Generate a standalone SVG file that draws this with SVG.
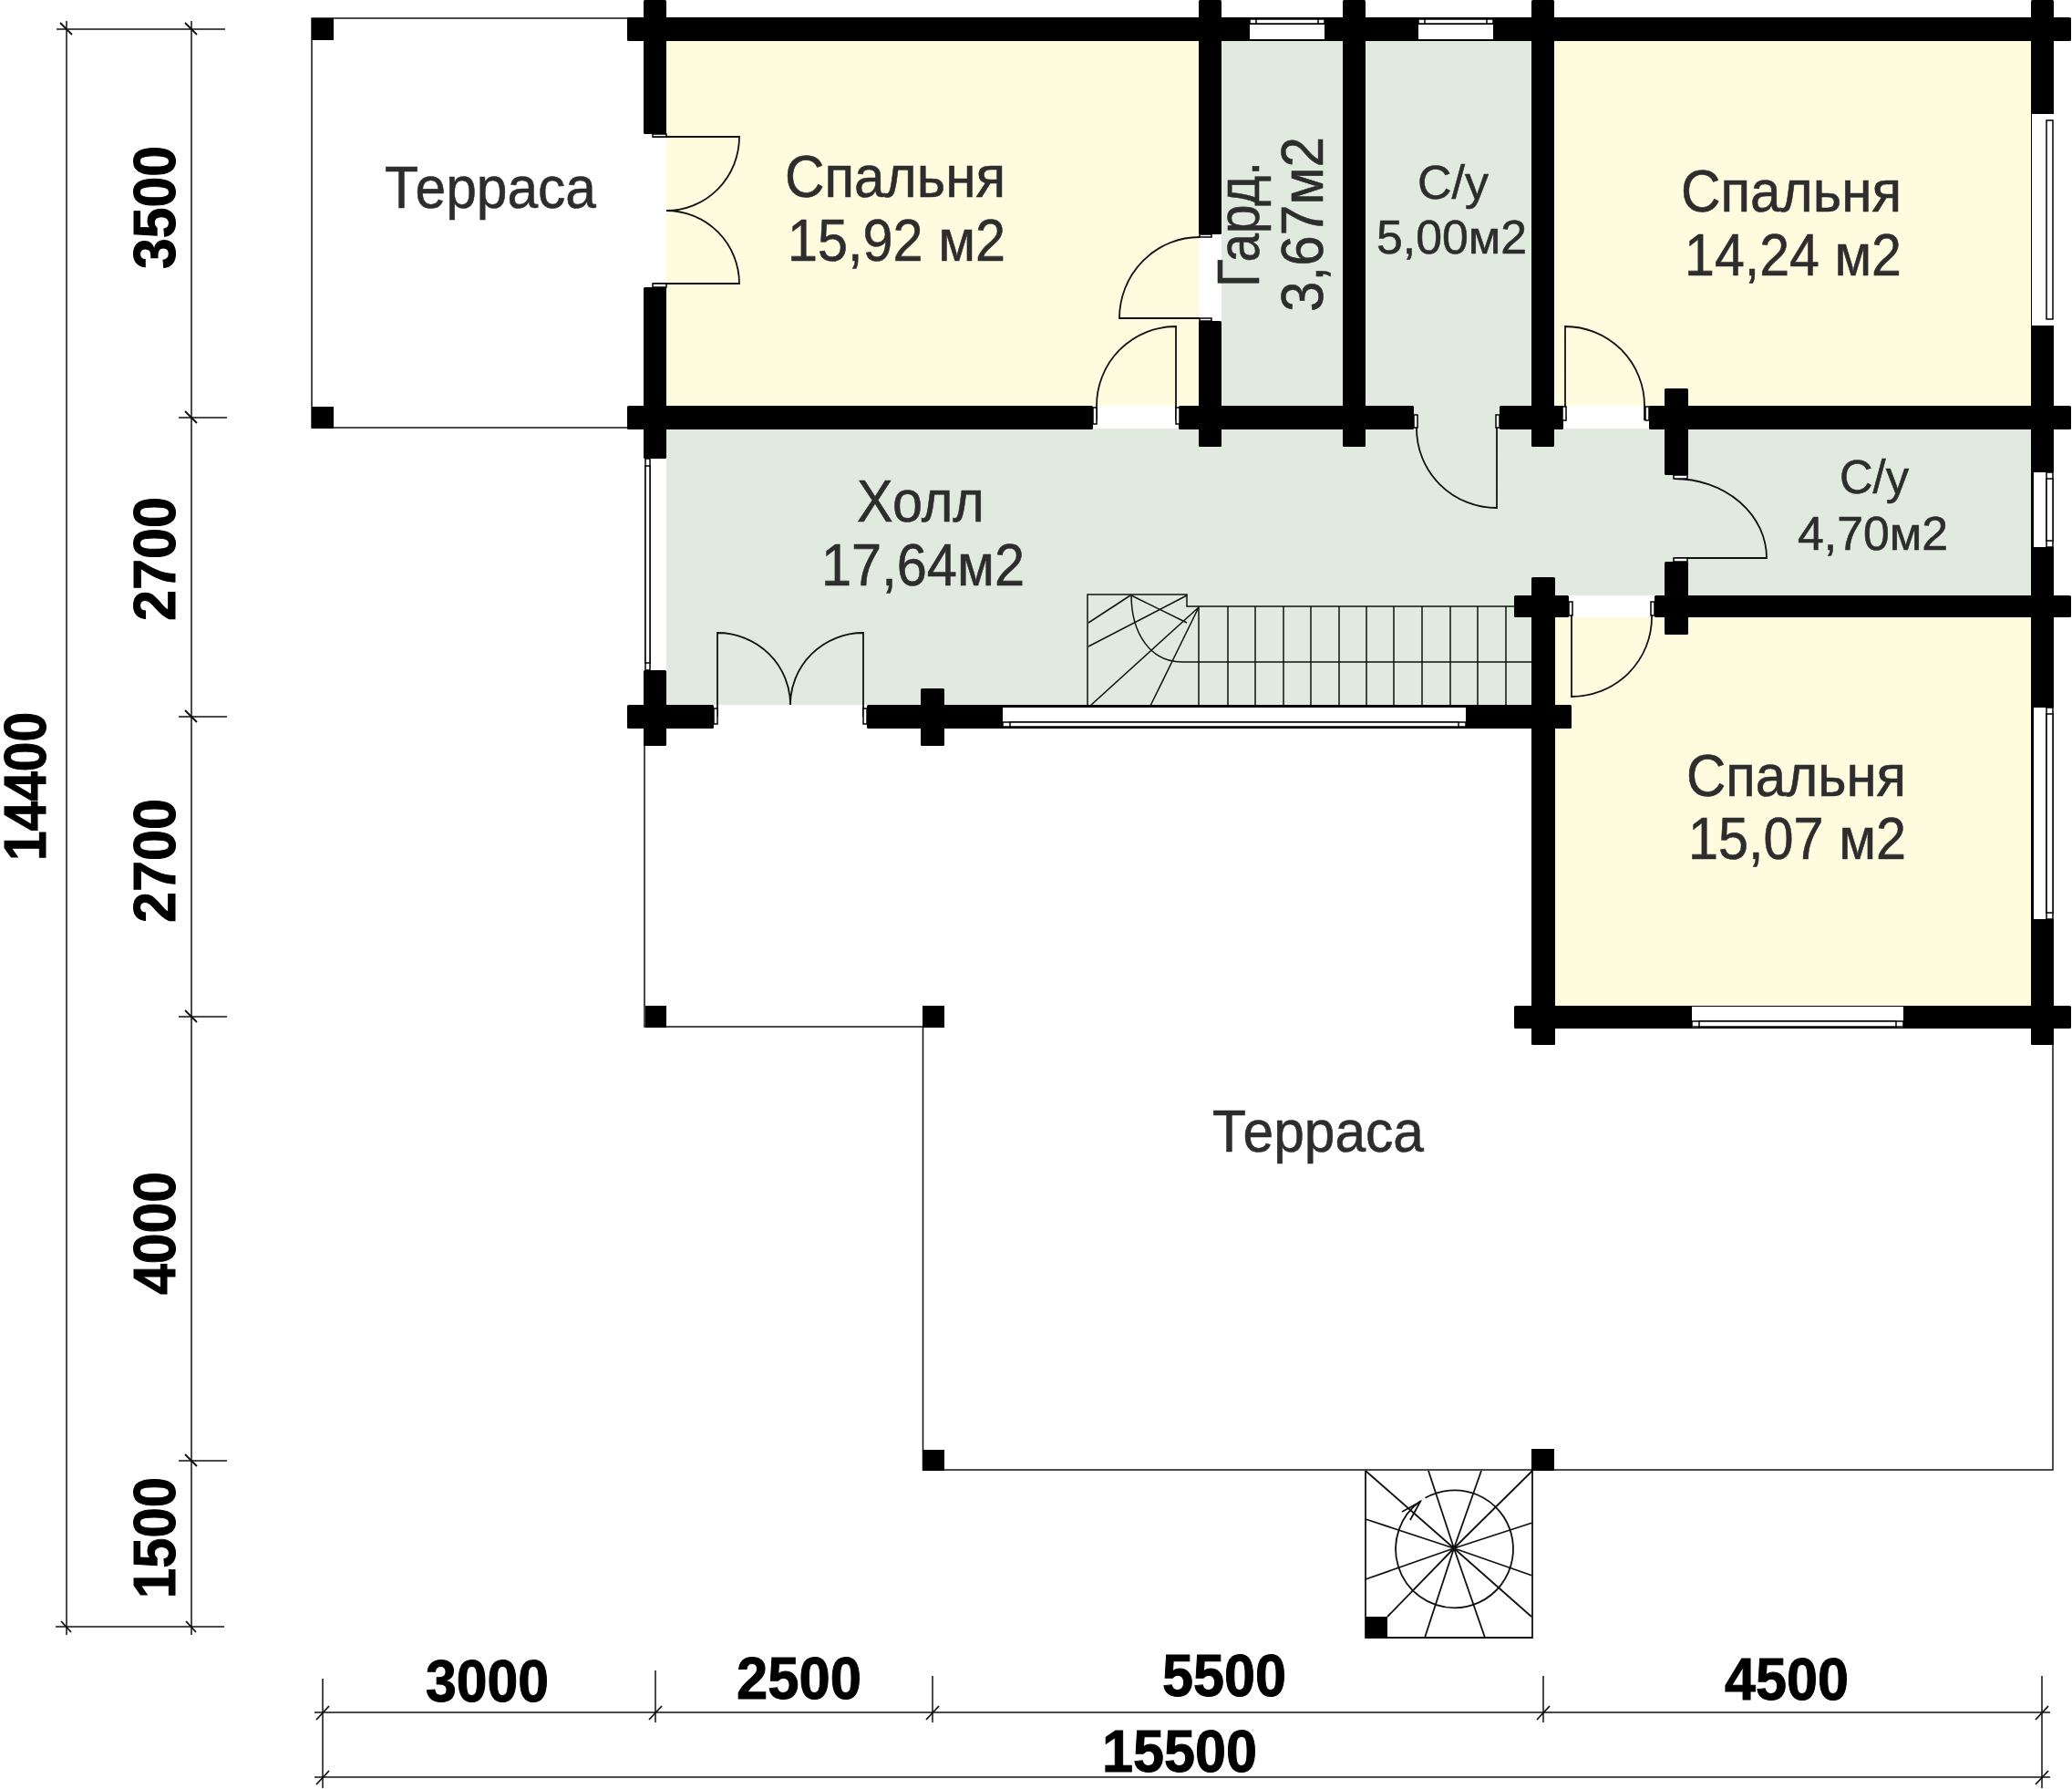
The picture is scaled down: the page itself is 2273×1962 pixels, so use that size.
<svg xmlns="http://www.w3.org/2000/svg" width="2273" height="1962" viewBox="0 0 2273 1962">
<style>
.y{fill:#fffbdf}.g{fill:#e0eadf}
.b{fill:#000}
.o{fill:#fff}
.f{fill:#fff;stroke:#000;stroke-width:1.5}
.l{fill:none;stroke:#111;stroke-width:1.5}
.d{fill:none;stroke:#111;stroke-width:1.8}
.t{font-family:"Liberation Sans",Arial,sans-serif;font-size:64px;fill:#2d2d2d;stroke:#2d2d2d;stroke-width:.6}
.s{font-size:52px}
.n{font-family:"Liberation Sans",Arial,sans-serif;font-weight:700;font-size:65px;fill:#000;stroke:#000;stroke-width:1}
</style>
<rect width="2273" height="1962" fill="#fff"/>
<g id="floors">
<rect class="y" x="731" y="45" width="584" height="400"/>
<rect class="g" x="1340" y="45" width="133" height="400"/>
<rect class="g" x="1498" y="45" width="182" height="426"/>
<rect class="y" x="1705" y="45" width="523" height="400"/>
<path class="g" d="M731,470H2228V653H1680V773H731Z"/>
<rect class="y" x="1706" y="677" width="522" height="426"/>
</g>
<g id="terrace-outlines">
<path class="l" d="M700,20H342V469H700"/>
<path class="l" d="M707,799V1126H1012.500V1612H2252V1128"/>
</g>
<g id="walls">
<g class="b">
<rect x="688" y="19" width="1584" height="26" rx="1.5"/>
<rect x="688" y="445" width="511" height="26" rx="1.5"/>
<rect x="1293" y="445" width="258" height="26" rx="1.5"/>
<rect x="1645" y="445" width="70" height="26" rx="1.5"/>
<rect x="1809" y="445" width="463" height="26" rx="1.5"/>
<rect x="1661" y="653" width="60" height="24" rx="1.5"/>
<rect x="1815" y="653" width="457" height="24" rx="1.5"/>
<rect x="688" y="773" width="95" height="26" rx="1.5"/>
<rect x="951" y="773" width="773" height="26" rx="1.5"/>
<rect x="1661" y="1103" width="611" height="25" rx="1.5"/>
<rect x="706" y="0" width="25" height="147" rx="1.5"/>
<rect x="706" y="315" width="25" height="188" rx="1.5"/>
<rect x="706" y="735" width="25" height="83" rx="1.5"/>
<rect x="1315" y="0" width="25" height="257" rx="1.5"/>
<rect x="1315" y="352" width="25" height="138" rx="1.5"/>
<rect x="1473" y="0" width="25" height="490" rx="1.5"/>
<rect x="1680" y="0" width="25" height="490" rx="1.5"/>
<rect x="1680" y="633" width="26" height="513" rx="1.5"/>
<rect x="1010" y="755" width="26" height="63" rx="1.5"/>
<rect x="1826" y="426" width="26" height="95" rx="1.5"/>
<rect x="1826" y="616" width="26" height="80" rx="1.5"/>
<rect x="2228" y="0" width="25" height="1146" rx="1.5"/>
</g>
<rect class="o" x="707" y="147" width="24" height="168"/>
<rect class="o" x="1315" y="257" width="25" height="95"/>
</g>
<g id="posts" class="b">
<rect x="342" y="20" width="24" height="24"/>
<rect x="342" y="446" width="24" height="24"/>
<rect x="708" y="1103" width="23" height="24"/>
<rect x="1012" y="1103" width="24" height="24"/>
<rect x="1012" y="1590" width="24" height="23"/>
<rect x="1680" y="1589" width="25" height="24"/>
</g>
<g id="windows">
<rect class="o" x="1371" y="27" width="82" height="16"/><rect class="f" x="1371" y="21" width="82" height="5"/><rect class="f" x="1378" y="21" width="68" height="5"/>
<rect class="o" x="1556" y="27" width="82" height="16"/><rect class="f" x="1556" y="21" width="82" height="5"/><rect class="f" x="1563" y="21" width="68" height="5"/>
<rect class="o" x="2229" y="125" width="24" height="232"/><rect class="f" x="2245" y="132" width="7" height="218"/>
<rect class="o" x="2231" y="518" width="22" height="82"/><rect class="f" x="2245" y="518" width="7" height="82"/><rect class="f" x="2245" y="525" width="7" height="68"/>
<rect class="o" x="2231" y="776" width="22" height="232"/><rect class="f" x="2245" y="776" width="7" height="232"/><rect class="f" x="2245" y="783" width="7" height="218"/>
<rect class="o" x="708" y="503" width="23" height="232"/><rect class="f" x="708" y="503" width="5" height="232"/><rect class="f" x="708" y="511" width="5" height="216"/>
<rect class="o" x="1100" y="776" width="508" height="21"/><rect class="f" x="1100" y="792" width="508" height="5"/><rect class="f" x="1108" y="792" width="492" height="5"/>
<rect class="o" x="1856" y="1104" width="232" height="23"/><rect class="f" x="1856" y="1120" width="232" height="6"/><rect class="f" x="1864" y="1120" width="216" height="6"/>
</g>
<g id="doors">
<path class="d" d="M716,150H811A80,81 0 0 1 731,231A80,80 0 0 1 811,311H716"/>
<rect class="f" x="716" y="147" width="15" height="3"/><rect class="f" x="716" y="311" width="15" height="4"/>
<path class="d" d="M1290,461V358A87,87 0 0 0 1203,445V461"/>
<path class="d" d="M1316,349H1228A88,89 0 0 1 1316,260"/>
<rect class="f" x="1316" y="257" width="13" height="3"/><rect class="f" x="1316" y="349" width="13" height="3"/>
<path class="d" d="M1717,461V358A87,87 0 0 1 1804,445V461"/>
<path class="d" d="M1642,455V557A88,87 0 0 1 1554,470V455"/>
<path class="d" d="M1837,525A101,87 0 0 1 1938,612H1837"/>
<rect class="f" x="1836" y="521" width="15" height="4"/><rect class="f" x="1836" y="612" width="15" height="4"/>
<path class="d" d="M1724,665V764A88,87 0 0 0 1812,677V665"/>
<path class="d" d="M787,786V694A80,79 0 0 1 867,773A80,79 0 0 1 947,694V786"/>
<rect class="f" x="1199" y="447" width="4" height="18"/><rect class="f" x="1290" y="447" width="4" height="18"/>
<rect class="f" x="1714" y="446" width="4" height="15"/><rect class="f" x="1805" y="446" width="4" height="15"/>
<rect class="f" x="1551" y="455" width="4" height="14"/><rect class="f" x="1641" y="455" width="4" height="14"/>
<rect class="f" x="1721" y="660" width="4" height="15"/><rect class="f" x="1811" y="660" width="4" height="15"/>
<rect class="f" x="783" y="777" width="4" height="17"/><rect class="f" x="947" y="777" width="4" height="17"/>
</g>
<g id="hall-stair">
<path class="l" d="M1193,774V652H1302V665H1315M1315,665H1662M1315,665V774M1347,665V774M1377,665V774M1408,665V774M1438,665V774M1469,665V774M1499,665V774M1529,665V774M1560,665V774M1591,665V774M1621,665V774M1652,665V774"/>
<path class="l" d="M1240,653L1194,683M1302,653L1194,709M1241,653L1302,683M1315,666L1196,774M1315,666L1262,774"/>
<path class="l" d="M1241,652C1241,695 1262,726 1297,726H1680"/>
<path d="M1193,774.5H1680" stroke="#000" stroke-width="2.5" fill="none"/>
</g>
<g id="spiral-stair">
<path class="d" d="M1498,1613V1796H1681V1613"/>
<rect class="b" x="1498" y="1773" width="24" height="23"/>
<path class="d" d="M1498,1613L1595,1698M1567,1613L1595,1698M1625,1613L1595,1698M1681,1613L1595,1698M1681,1670L1595,1698M1681,1728L1595,1698M1680,1773L1595,1698M1629,1796L1595,1698M1563,1796L1595,1698M1522,1773L1595,1698M1498,1732L1595,1698M1498,1666L1595,1698"/>
<path class="d" d="M1563.500,1642.800A64.500,64.500 0 1 1 1595.500,1763.300A64.500,64.500 0 0 1 1558.500,1646"/>
<path class="d" d="M1538,1658L1558,1647L1547,1667"/>
</g>
<g id="dimensions">
<path class="l" d="M73,23V1793M210,23V1793M62,32H247M196,458H249M196,786H249M196,1115H249M196,1602H249M61,1784H246"/>
<path class="l" d="M354,1841V1961M719,1832V1889M1023,1838V1889M1693,1838V1889M2240,1838V1961M345,1878H2249M345,1949H2249"/>
<path class="d" d="M66,25L79,38M203,25L216,38M203,451L216,464M203,779L216,792M203,1108L216,1121M203,1595L216,1608M67,1778L78,1790M204,1778L215,1790"/>
<path class="d" d="M347,1886L361,1871M347,1957L361,1942M712,1886L726,1871M1016,1886L1030,1871M1686,1886L1700,1871M2233,1886L2247,1871M2233,1957L2247,1942"/>
<g class="n">
<text x="467" y="1866" textLength="135" lengthAdjust="spacingAndGlyphs">3000</text>
<text x="808" y="1863" textLength="137" lengthAdjust="spacingAndGlyphs">2500</text>
<text x="1275" y="1860" textLength="136" lengthAdjust="spacingAndGlyphs">5500</text>
<text x="1892" y="1864" textLength="136" lengthAdjust="spacingAndGlyphs">4500</text>
<text x="1209" y="1943" textLength="170" lengthAdjust="spacingAndGlyphs">15500</text>
<text transform="translate(192,295) rotate(-90)" textLength="135" lengthAdjust="spacingAndGlyphs">3500</text>
<text transform="translate(192,681) rotate(-90)" textLength="136" lengthAdjust="spacingAndGlyphs">2700</text>
<text transform="translate(192,1012) rotate(-90)" textLength="136" lengthAdjust="spacingAndGlyphs">2700</text>
<text transform="translate(192,1420) rotate(-90)" textLength="135" lengthAdjust="spacingAndGlyphs">4000</text>
<text transform="translate(192,1753) rotate(-90)" textLength="133" lengthAdjust="spacingAndGlyphs">1500</text>
<text transform="translate(50,944) rotate(-90)" textLength="163" lengthAdjust="spacingAndGlyphs">14400</text>
</g>
</g>
<g id="labels">
<g id="terrace-1"><text class="t" x="422" y="228" textLength="232" lengthAdjust="spacingAndGlyphs">Терраса</text></g>
<g id="bedroom-1"><text class="t" x="861" y="216" textLength="242" lengthAdjust="spacingAndGlyphs">Спальня</text><text class="t" x="864" y="286" textLength="239" lengthAdjust="spacingAndGlyphs">15,92 м2</text></g>
<g id="wardrobe"><text class="t" transform="translate(1381,315) rotate(-90)" textLength="138" lengthAdjust="spacingAndGlyphs">Гард.</text><text class="t" transform="translate(1451,342) rotate(-90)" textLength="192" lengthAdjust="spacingAndGlyphs">3,67м2</text></g>
<g id="bath-1"><text class="t s" x="1555" y="218" textLength="78" lengthAdjust="spacingAndGlyphs">С/у</text><text class="t s" x="1510" y="278" textLength="165" lengthAdjust="spacingAndGlyphs">5,00м2</text></g>
<g id="bedroom-2"><text class="t" x="1844" y="232" textLength="242" lengthAdjust="spacingAndGlyphs">Спальня</text><text class="t" x="1848" y="302" textLength="238" lengthAdjust="spacingAndGlyphs">14,24 м2</text></g>
<g id="hall"><text class="t" x="940" y="572" textLength="140" lengthAdjust="spacingAndGlyphs">Холл</text><text class="t" x="901" y="642" textLength="223" lengthAdjust="spacingAndGlyphs">17,64м2</text></g>
<g id="bath-2"><text class="t s" x="2018" y="541" textLength="76" lengthAdjust="spacingAndGlyphs">С/у</text><text class="t s" x="1972" y="603" textLength="165" lengthAdjust="spacingAndGlyphs">4,70м2</text></g>
<g id="bedroom-3"><text class="t" x="1850" y="873" textLength="241" lengthAdjust="spacingAndGlyphs">Спальня</text><text class="t" x="1852" y="942" textLength="239" lengthAdjust="spacingAndGlyphs">15,07 м2</text></g>
<g id="terrace-2"><text class="t" x="1330" y="1263" textLength="232" lengthAdjust="spacingAndGlyphs">Терраса</text></g>
</g>
</svg>
